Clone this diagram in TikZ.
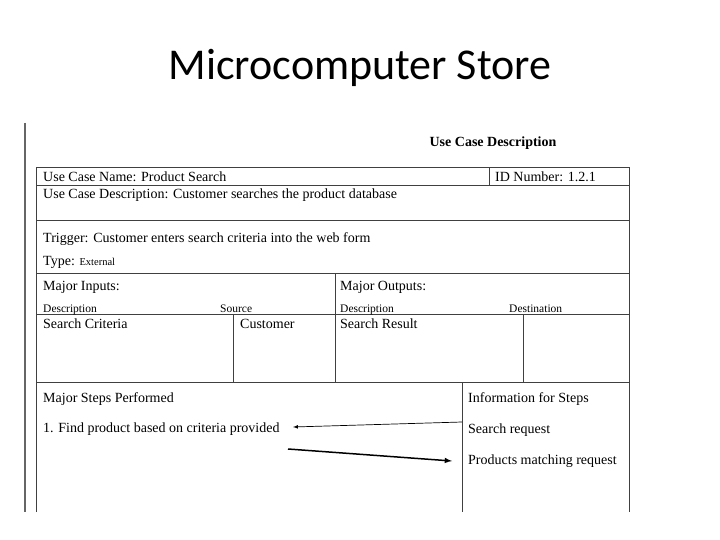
\documentclass[tikz,border=0pt]{standalone}
\usepackage{fontspec}
\setmainfont{Liberation Serif}
\newfontfamily\titlefont{Carlito}
\begin{document}
\begin{tikzpicture}[x=1pt,y=-1pt,
  grid/.style={draw=black!75,line width=1pt},
  txt/.style={anchor=base west,inner sep=0pt,font=\fontsize{14}{16}\selectfont},
  small/.style={anchor=base west,inner sep=0pt,font=\fontsize{11.5}{13}\selectfont}]
\useasboundingbox[fill=white] (0,0) rectangle (720,540);
\node[font=\titlefont\fontsize{44}{48}\selectfont] (title) at (360,68) {Microcomputer Store};
\draw[black!60,line width=1.2pt] (25,123) -- (25,512);
\node[font=\bfseries\fontsize{14}{16}\selectfont] (ucd) at (493,143) {Use Case Description};
% grid
\draw[grid] (36,512) -- (36,168) -- (629,168) -- (629,512);
\draw[grid] (36,186) -- (629,186);
\draw[grid] (36,221) -- (629,221);
\draw[grid] (36,273) -- (629,273);
\draw[grid] (36,314) -- (629,314);
\draw[grid] (36,382) -- (629,382);
\draw[grid] (489,168) -- (489,186);
\draw[grid] (335,273) -- (335,382);
\draw[grid] (233,314) -- (233,382);
\draw[grid] (523,314) -- (523,382);
\draw[grid] (462,382) -- (462,512);
% texts
\node[txt] (n1) at (43,182) {Use Case Name: Product Search};
\node[txt] (n2) at (495,182) {ID Number: 1.2.1};
\node[txt] (n3) at (43,199) {Use Case Description: Customer searches the product database};
\node[txt] (n4) at (43,242) {Trigger: Customer enters search criteria into the web form};
\node[txt] (n5) at (43,265) {Type: {\fontsize{10.5}{12}\selectfont External}};
\node[txt] (n6) at (43,290) {Major Inputs:};
\node[txt] (n7) at (340,290) {Major Outputs:};
\node[small] (d1) at (43,312) {Description};
\node[small] (d2) at (220,312) {Source};
\node[small] (d3) at (340,312) {Description};
\node[small] (d4) at (509,312) {Destination};
\node[txt] (c1) at (43,328) {Search Criteria};
\node[txt] (c2) at (240,328) {Customer};
\node[txt] (c3) at (340,328) {Search Result};
\node[txt] (s1) at (43,402) {Major Steps Performed};
\node[txt] (s2) at (43,432) {1. Find product based on criteria provided};
\node[txt] (i1) at (468,402) {Information for Steps};
\node[txt] (i2) at (468,433) {Search request};
\node[txt] (i3) at (468,464) {Products matching request};
\coordinate (a1) at (462,422);
\coordinate (a0) at (293,427);
\coordinate (a2) at (288,449);
\coordinate (a3) at (452,461);
\draw[-latex,line width=0.7pt] (a1) -- (a0);
\draw[-latex,line width=1.5pt] (a2) -- (a3);
\end{tikzpicture}
\end{document}
